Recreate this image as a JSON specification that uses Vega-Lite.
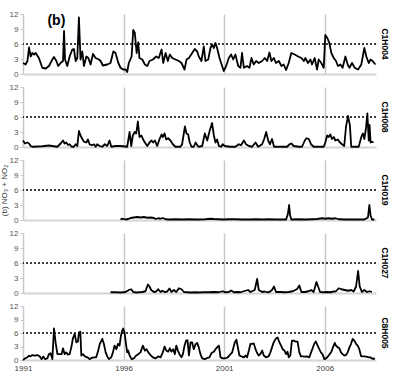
{
"$schema":"https://vega.github.io/schema/vega-lite/v6.json",
"background":"white",
"padding":{"left":0,"top":10,"right":2,"bottom":2},
"bounds":"flush",
"spacing":13,
"config":{
 "font":"Liberation Sans",
 "view":{"stroke":null},
 "axis":{"labelFont":"Liberation Sans","labelFontSize":8,"labelColor":"#555555","domainColor":"#c8c8c8","tickColor":"#c8c8c8","gridColor":"#c8c8c8","titleFont":"Liberation Sans","labelOverlap":false},
 "axisY":{"grid":false,"tickSize":3,"labelPadding":2,"domainWidth":1,"title":null,"titleFontSize":8,"titleFontWeight":"normal","titleColor":"#333333","titlePadding":1},
 "axisX":{"grid":true,"gridWidth":1.5,"ticks":false,"domainWidth":2,"domainColor":"#d4d4d4","labelFlush":false,"format":"d","labelPadding":4,"title":null,"labelColor":"#404040"},
 "title":{"orient":"right","fontSize":8.5,"fontWeight":"bold","anchor":"middle","offset":4,"color":"#000000","font":"Liberation Sans"}
},
"datasets":{
"C1H004":[{"t":1991.00,"v":2.2},{"t":1991.13,"v":1.9},{"t":1991.22,"v":2.6},{"t":1991.30,"v":5.3},{"t":1991.38,"v":3.5},{"t":1991.46,"v":4.2},{"t":1991.55,"v":3.9},{"t":1991.63,"v":4.2},{"t":1991.79,"v":3.2},{"t":1991.96,"v":1.25},{"t":1992.13,"v":1.1},{"t":1992.29,"v":1.6},{"t":1992.46,"v":2.9},{"t":1992.54,"v":3.4},{"t":1992.66,"v":2.6},{"t":1992.75,"v":1.6},{"t":1992.87,"v":2.2},{"t":1992.99,"v":2.6},{"t":1993.04,"v":8.6},{"t":1993.09,"v":2.9},{"t":1993.20,"v":1.6},{"t":1993.32,"v":3.5},{"t":1993.45,"v":4.9},{"t":1993.53,"v":5.0},{"t":1993.62,"v":2.6},{"t":1993.70,"v":3.2},{"t":1993.78,"v":11.3},{"t":1993.86,"v":2.9},{"t":1993.95,"v":4.5},{"t":1994.03,"v":1.6},{"t":1994.15,"v":3.5},{"t":1994.25,"v":3.2},{"t":1994.36,"v":1.9},{"t":1994.48,"v":4.0},{"t":1994.61,"v":3.2},{"t":1994.77,"v":2.9},{"t":1994.86,"v":2.6},{"t":1994.97,"v":1.7},{"t":1995.19,"v":1.9},{"t":1995.35,"v":2.2},{"t":1995.49,"v":4.5},{"t":1995.60,"v":4.2},{"t":1995.74,"v":2.2},{"t":1995.85,"v":1.25},{"t":1995.97,"v":0.9},{"t":1996.10,"v":0.9},{"t":1996.18,"v":0.4},{"t":1996.26,"v":2.2},{"t":1996.40,"v":3.5},{"t":1996.48,"v":8.8},{"t":1996.56,"v":8.2},{"t":1996.65,"v":4.2},{"t":1996.73,"v":6.3},{"t":1996.79,"v":3.2},{"t":1996.93,"v":2.9},{"t":1997.06,"v":1.9},{"t":1997.18,"v":1.6},{"t":1997.29,"v":2.6},{"t":1997.46,"v":2.9},{"t":1997.62,"v":3.5},{"t":1997.75,"v":3.2},{"t":1997.89,"v":4.9},{"t":1997.97,"v":2.2},{"t":1998.09,"v":4.2},{"t":1998.20,"v":2.6},{"t":1998.30,"v":3.9},{"t":1998.42,"v":3.2},{"t":1998.58,"v":2.9},{"t":1998.75,"v":2.6},{"t":1998.88,"v":2.2},{"t":1999.03,"v":0.9},{"t":1999.13,"v":2.9},{"t":1999.25,"v":3.2},{"t":1999.41,"v":4.2},{"t":1999.54,"v":5.0},{"t":1999.66,"v":4.5},{"t":1999.74,"v":3.5},{"t":1999.87,"v":2.6},{"t":1999.99,"v":5.5},{"t":2000.07,"v":2.6},{"t":2000.21,"v":2.9},{"t":2000.32,"v":5.2},{"t":2000.40,"v":5.9},{"t":2000.49,"v":5.2},{"t":2000.57,"v":6.2},{"t":2000.65,"v":5.2},{"t":2000.77,"v":3.2},{"t":2000.90,"v":1.6},{"t":2000.98,"v":0.6},{"t":2001.10,"v":1.6},{"t":2001.23,"v":3.2},{"t":2001.35,"v":3.9},{"t":2001.45,"v":2.9},{"t":2001.56,"v":3.9},{"t":2001.70,"v":1.6},{"t":2001.81,"v":1.25},{"t":2001.89,"v":4.2},{"t":2001.98,"v":1.25},{"t":2002.14,"v":1.6},{"t":2002.26,"v":1.25},{"t":2002.36,"v":3.2},{"t":2002.47,"v":1.9},{"t":2002.59,"v":2.6},{"t":2002.72,"v":2.2},{"t":2002.89,"v":2.6},{"t":2003.02,"v":3.2},{"t":2003.14,"v":2.6},{"t":2003.25,"v":4.3},{"t":2003.35,"v":2.6},{"t":2003.47,"v":3.2},{"t":2003.58,"v":2.2},{"t":2003.72,"v":2.6},{"t":2003.85,"v":1.6},{"t":2003.96,"v":1.9},{"t":2004.08,"v":0.8},{"t":2004.21,"v":2.2},{"t":2004.34,"v":4.2},{"t":2004.51,"v":3.9},{"t":2004.68,"v":3.5},{"t":2004.84,"v":3.2},{"t":2004.96,"v":2.6},{"t":2005.04,"v":3.2},{"t":2005.17,"v":2.2},{"t":2005.29,"v":2.9},{"t":2005.37,"v":1.9},{"t":2005.50,"v":3.2},{"t":2005.62,"v":0.9},{"t":2005.70,"v":2.9},{"t":2005.83,"v":2.2},{"t":2005.95,"v":1.25},{"t":2006.03,"v":7.8},{"t":2006.13,"v":7.2},{"t":2006.23,"v":6.2},{"t":2006.33,"v":4.2},{"t":2006.45,"v":3.2},{"t":2006.56,"v":2.6},{"t":2006.66,"v":1.6},{"t":2006.78,"v":1.9},{"t":2006.89,"v":1.25},{"t":2007.03,"v":3.5},{"t":2007.14,"v":1.9},{"t":2007.23,"v":1.25},{"t":2007.36,"v":2.2},{"t":2007.49,"v":1.25},{"t":2007.66,"v":0.9},{"t":2007.82,"v":1.9},{"t":2007.97,"v":5.2},{"t":2008.07,"v":3.5},{"t":2008.19,"v":2.2},{"t":2008.28,"v":2.9},{"t":2008.38,"v":2.6},{"t":2008.52,"v":1.9}],
"C1H008":[{"t":1991.00,"v":1.3},{"t":1991.10,"v":0.7},{"t":1991.22,"v":0.9},{"t":1991.30,"v":0.7},{"t":1991.38,"v":0.2},{"t":1991.46,"v":0.05},{"t":1991.96,"v":0.15},{"t":1992.29,"v":0.3},{"t":1992.46,"v":0.2},{"t":1992.71,"v":0.05},{"t":1992.87,"v":0.7},{"t":1992.99,"v":1.3},{"t":1993.07,"v":0.7},{"t":1993.15,"v":0.9},{"t":1993.24,"v":0.4},{"t":1993.32,"v":0.55},{"t":1993.42,"v":0.05},{"t":1993.53,"v":0.05},{"t":1993.62,"v":0.55},{"t":1993.70,"v":0.2},{"t":1993.78,"v":3.2},{"t":1993.86,"v":2.3},{"t":1993.95,"v":1.6},{"t":1994.03,"v":1.05},{"t":1994.15,"v":0.9},{"t":1994.23,"v":1.5},{"t":1994.31,"v":0.55},{"t":1994.41,"v":0.35},{"t":1994.53,"v":0.55},{"t":1994.61,"v":0.05},{"t":1994.69,"v":0.55},{"t":1994.81,"v":0.2},{"t":1994.94,"v":0.05},{"t":1995.07,"v":0.55},{"t":1995.19,"v":0.2},{"t":1995.30,"v":1.3},{"t":1995.39,"v":0.05},{"t":1995.60,"v":0.2},{"t":1995.85,"v":0.2},{"t":1996.18,"v":0.05},{"t":1996.30,"v":3.0},{"t":1996.38,"v":0.2},{"t":1996.46,"v":2.3},{"t":1996.55,"v":3.0},{"t":1996.63,"v":2.7},{"t":1996.71,"v":5.1},{"t":1996.79,"v":2.0},{"t":1996.89,"v":2.3},{"t":1996.96,"v":1.6},{"t":1997.06,"v":0.9},{"t":1997.18,"v":0.2},{"t":1997.29,"v":0.9},{"t":1997.39,"v":1.3},{"t":1997.47,"v":0.9},{"t":1997.56,"v":1.3},{"t":1997.67,"v":0.2},{"t":1997.79,"v":1.6},{"t":1997.89,"v":2.5},{"t":1997.95,"v":2.0},{"t":1998.04,"v":2.7},{"t":1998.12,"v":1.5},{"t":1998.22,"v":1.75},{"t":1998.33,"v":1.3},{"t":1998.45,"v":0.55},{"t":1998.58,"v":0.05},{"t":1998.83,"v":0.05},{"t":1998.91,"v":0.55},{"t":1999.05,"v":4.1},{"t":1999.13,"v":2.7},{"t":1999.21,"v":2.5},{"t":1999.29,"v":0.9},{"t":1999.38,"v":0.05},{"t":1999.49,"v":0.05},{"t":1999.58,"v":0.9},{"t":1999.69,"v":0.2},{"t":1999.74,"v":0.05},{"t":1999.91,"v":0.2},{"t":2000.04,"v":2.7},{"t":2000.16,"v":1.3},{"t":2000.29,"v":3.4},{"t":2000.40,"v":4.8},{"t":2000.49,"v":2.3},{"t":2000.57,"v":0.9},{"t":2000.65,"v":1.5},{"t":2000.74,"v":0.2},{"t":2000.85,"v":0.05},{"t":2000.93,"v":0.55},{"t":2001.03,"v":0.2},{"t":2001.31,"v":0.05},{"t":2001.56,"v":0.05},{"t":2001.73,"v":0.55},{"t":2001.84,"v":0.35},{"t":2001.98,"v":1.3},{"t":2002.09,"v":0.55},{"t":2002.23,"v":0.2},{"t":2002.39,"v":0.05},{"t":2002.56,"v":0.9},{"t":2002.69,"v":0.05},{"t":2002.89,"v":0.55},{"t":2002.99,"v":1.6},{"t":2003.09,"v":3.0},{"t":2003.19,"v":1.3},{"t":2003.28,"v":0.55},{"t":2003.38,"v":1.6},{"t":2003.48,"v":0.05},{"t":2004.13,"v":0.05},{"t":2004.25,"v":0.55},{"t":2004.34,"v":0.7},{"t":2004.46,"v":0.2},{"t":2004.71,"v":0.05},{"t":2004.87,"v":0.05},{"t":2005.01,"v":1.3},{"t":2005.09,"v":1.75},{"t":2005.21,"v":1.6},{"t":2005.32,"v":0.55},{"t":2005.45,"v":0.05},{"t":2005.95,"v":0.05},{"t":2006.03,"v":0.9},{"t":2006.12,"v":2.3},{"t":2006.20,"v":2.0},{"t":2006.28,"v":2.5},{"t":2006.36,"v":1.6},{"t":2006.45,"v":2.0},{"t":2006.53,"v":1.3},{"t":2006.65,"v":1.5},{"t":2006.73,"v":1.05},{"t":2006.86,"v":0.55},{"t":2006.97,"v":0.2},{"t":2007.06,"v":4.1},{"t":2007.16,"v":6.2},{"t":2007.25,"v":4.4},{"t":2007.32,"v":0.05},{"t":2007.69,"v":0.05},{"t":2007.82,"v":2.0},{"t":2007.90,"v":2.7},{"t":2007.97,"v":1.6},{"t":2008.05,"v":3.7},{"t":2008.12,"v":6.7},{"t":2008.19,"v":1.3},{"t":2008.23,"v":4.4},{"t":2008.28,"v":0.9},{"t":2008.35,"v":1.05},{"t":2008.43,"v":0.9}],
"C1H019":[{"t":1995.85,"v":0.15},{"t":1995.97,"v":0.25},{"t":1996.10,"v":0.1},{"t":1996.23,"v":0.2},{"t":1996.35,"v":0.4},{"t":1996.51,"v":0.5},{"t":1996.68,"v":0.6},{"t":1996.84,"v":0.5},{"t":1997.01,"v":0.6},{"t":1997.18,"v":0.45},{"t":1997.34,"v":0.5},{"t":1997.51,"v":0.4},{"t":1997.59,"v":0.2},{"t":1997.72,"v":0.35},{"t":1997.84,"v":0.25},{"t":1997.95,"v":0.4},{"t":1998.09,"v":0.15},{"t":1998.25,"v":0.1},{"t":1998.58,"v":0.15},{"t":1998.91,"v":0.1},{"t":1999.25,"v":0.15},{"t":1999.58,"v":0.1},{"t":1999.74,"v":0.1},{"t":2000.07,"v":0.15},{"t":2000.32,"v":0.25},{"t":2000.49,"v":0.2},{"t":2000.74,"v":0.15},{"t":2000.98,"v":0.1},{"t":2001.23,"v":0.15},{"t":2001.56,"v":0.15},{"t":2001.89,"v":0.1},{"t":2002.23,"v":0.1},{"t":2002.56,"v":0.15},{"t":2002.89,"v":0.1},{"t":2003.22,"v":0.15},{"t":2003.55,"v":0.1},{"t":2003.88,"v":0.1},{"t":2004.08,"v":0.1},{"t":2004.17,"v":1.2},{"t":2004.23,"v":3.0},{"t":2004.28,"v":0.9},{"t":2004.34,"v":0.1},{"t":2004.71,"v":0.15},{"t":2005.04,"v":0.1},{"t":2005.37,"v":0.15},{"t":2005.62,"v":0.2},{"t":2005.87,"v":0.35},{"t":2006.03,"v":0.25},{"t":2006.20,"v":0.35},{"t":2006.36,"v":0.25},{"t":2006.53,"v":0.35},{"t":2006.70,"v":0.15},{"t":2007.03,"v":0.1},{"t":2007.36,"v":0.1},{"t":2007.69,"v":0.1},{"t":2007.97,"v":0.1},{"t":2008.15,"v":0.5},{"t":2008.22,"v":3.0},{"t":2008.28,"v":0.9},{"t":2008.35,"v":0.1},{"t":2008.47,"v":0.1}],
"C1H027":[{"t":1995.35,"v":0.15},{"t":1995.60,"v":0.15},{"t":1995.85,"v":0.1},{"t":1996.10,"v":0.2},{"t":1996.26,"v":0.6},{"t":1996.38,"v":0.75},{"t":1996.48,"v":0.2},{"t":1996.63,"v":0.1},{"t":1996.76,"v":0.15},{"t":1996.93,"v":0.2},{"t":1997.09,"v":0.35},{"t":1997.21,"v":1.7},{"t":1997.29,"v":1.3},{"t":1997.37,"v":0.6},{"t":1997.51,"v":0.2},{"t":1997.62,"v":0.3},{"t":1997.72,"v":0.75},{"t":1997.84,"v":0.2},{"t":1997.92,"v":0.45},{"t":1998.04,"v":0.2},{"t":1998.17,"v":0.3},{"t":1998.28,"v":0.9},{"t":1998.38,"v":0.2},{"t":1998.50,"v":0.6},{"t":1998.62,"v":0.2},{"t":1998.75,"v":0.95},{"t":1998.88,"v":0.75},{"t":1999.00,"v":0.2},{"t":1999.16,"v":0.15},{"t":1999.33,"v":0.1},{"t":1999.58,"v":0.15},{"t":1999.74,"v":0.1},{"t":1999.99,"v":0.15},{"t":2000.24,"v":0.15},{"t":2000.49,"v":0.2},{"t":2000.74,"v":0.15},{"t":2000.93,"v":0.35},{"t":2001.03,"v":0.15},{"t":2001.23,"v":0.2},{"t":2001.35,"v":0.5},{"t":2001.48,"v":0.15},{"t":2001.65,"v":0.2},{"t":2001.81,"v":0.15},{"t":2001.98,"v":0.35},{"t":2002.19,"v":0.6},{"t":2002.31,"v":0.2},{"t":2002.52,"v":0.6},{"t":2002.64,"v":2.8},{"t":2002.72,"v":0.6},{"t":2002.89,"v":0.2},{"t":2003.00,"v":0.3},{"t":2003.14,"v":0.15},{"t":2003.25,"v":0.2},{"t":2003.38,"v":0.6},{"t":2003.48,"v":1.3},{"t":2003.58,"v":0.2},{"t":2003.80,"v":0.2},{"t":2004.01,"v":0.15},{"t":2004.21,"v":0.2},{"t":2004.41,"v":0.35},{"t":2004.54,"v":0.6},{"t":2004.63,"v":0.8},{"t":2004.74,"v":1.5},{"t":2004.84,"v":0.2},{"t":2005.01,"v":0.2},{"t":2005.21,"v":0.35},{"t":2005.32,"v":0.6},{"t":2005.45,"v":0.2},{"t":2005.59,"v":2.2},{"t":2005.67,"v":1.3},{"t":2005.77,"v":0.2},{"t":2005.95,"v":0.15},{"t":2006.12,"v":0.2},{"t":2006.28,"v":0.15},{"t":2006.45,"v":0.3},{"t":2006.56,"v":0.35},{"t":2006.70,"v":0.95},{"t":2006.83,"v":0.75},{"t":2006.99,"v":0.6},{"t":2007.16,"v":0.45},{"t":2007.32,"v":0.6},{"t":2007.44,"v":0.3},{"t":2007.56,"v":1.3},{"t":2007.66,"v":4.4},{"t":2007.74,"v":1.3},{"t":2007.85,"v":0.2},{"t":2007.97,"v":0.6},{"t":2008.10,"v":0.2},{"t":2008.22,"v":0.35},{"t":2008.35,"v":0.2}],
"C8H005":[{"t":1991.00,"v":0},{"t":1991.10,"v":0.35},{"t":1991.22,"v":0.6},{"t":1991.30,"v":0.95},{"t":1991.38,"v":0.8},{"t":1991.46,"v":1.1},{"t":1991.58,"v":0.95},{"t":1991.71,"v":1.1},{"t":1991.83,"v":0.8},{"t":1991.93,"v":0.2},{"t":1992.01,"v":0.8},{"t":1992.09,"v":0.2},{"t":1992.21,"v":0.35},{"t":1992.29,"v":1.3},{"t":1992.37,"v":1.5},{"t":1992.46,"v":0.2},{"t":1992.54,"v":7.0},{"t":1992.62,"v":3.9},{"t":1992.71,"v":1.3},{"t":1992.82,"v":1.3},{"t":1992.92,"v":1.3},{"t":1992.99,"v":2.6},{"t":1993.07,"v":1.3},{"t":1993.15,"v":1.7},{"t":1993.24,"v":1.2},{"t":1993.32,"v":1.3},{"t":1993.42,"v":3.2},{"t":1993.48,"v":4.8},{"t":1993.57,"v":5.8},{"t":1993.65,"v":3.9},{"t":1993.73,"v":4.1},{"t":1993.78,"v":6.1},{"t":1993.85,"v":6.3},{"t":1993.90,"v":1.0},{"t":1993.98,"v":1.3},{"t":1994.08,"v":0.8},{"t":1994.20,"v":0.6},{"t":1994.31,"v":0.2},{"t":1994.41,"v":0.45},{"t":1994.53,"v":0.6},{"t":1994.64,"v":0.6},{"t":1994.74,"v":2.1},{"t":1994.82,"v":3.6},{"t":1994.94,"v":4.7},{"t":1995.02,"v":3.6},{"t":1995.11,"v":1.7},{"t":1995.19,"v":0.8},{"t":1995.27,"v":0.2},{"t":1995.39,"v":0.6},{"t":1995.47,"v":1.7},{"t":1995.55,"v":3.2},{"t":1995.64,"v":2.4},{"t":1995.72,"v":3.6},{"t":1995.80,"v":3.2},{"t":1995.87,"v":5.4},{"t":1995.93,"v":6.5},{"t":1995.98,"v":7.0},{"t":1996.05,"v":6.1},{"t":1996.12,"v":3.6},{"t":1996.18,"v":1.7},{"t":1996.23,"v":2.1},{"t":1996.30,"v":1.0},{"t":1996.40,"v":0.2},{"t":1996.51,"v":0.35},{"t":1996.63,"v":1.0},{"t":1996.73,"v":1.3},{"t":1996.84,"v":1.7},{"t":1996.96,"v":3.2},{"t":1997.06,"v":2.1},{"t":1997.14,"v":2.4},{"t":1997.23,"v":1.7},{"t":1997.34,"v":1.1},{"t":1997.46,"v":0.6},{"t":1997.59,"v":0.35},{"t":1997.72,"v":0.8},{"t":1997.84,"v":0.6},{"t":1997.95,"v":1.7},{"t":1998.04,"v":3.0},{"t":1998.12,"v":2.1},{"t":1998.22,"v":1.85},{"t":1998.30,"v":2.6},{"t":1998.38,"v":1.85},{"t":1998.47,"v":2.4},{"t":1998.55,"v":1.3},{"t":1998.62,"v":3.2},{"t":1998.70,"v":2.1},{"t":1998.78,"v":1.3},{"t":1998.88,"v":0.6},{"t":1998.95,"v":1.3},{"t":1999.03,"v":3.2},{"t":1999.11,"v":4.3},{"t":1999.18,"v":4.4},{"t":1999.25,"v":1.0},{"t":1999.33,"v":3.9},{"t":1999.41,"v":3.9},{"t":1999.49,"v":2.4},{"t":1999.58,"v":3.5},{"t":1999.66,"v":3.8},{"t":1999.74,"v":2.8},{"t":1999.82,"v":1.3},{"t":1999.91,"v":0.35},{"t":2000.04,"v":0.2},{"t":2000.16,"v":0.45},{"t":2000.27,"v":0.6},{"t":2000.37,"v":1.55},{"t":2000.49,"v":1.85},{"t":2000.57,"v":2.4},{"t":2000.65,"v":2.8},{"t":2000.74,"v":3.2},{"t":2000.82,"v":0.6},{"t":2000.93,"v":0.35},{"t":2001.03,"v":0.35},{"t":2001.15,"v":0.5},{"t":2001.26,"v":1.0},{"t":2001.40,"v":1.7},{"t":2001.53,"v":3.9},{"t":2001.61,"v":4.5},{"t":2001.70,"v":2.4},{"t":2001.76,"v":1.0},{"t":2001.86,"v":0.8},{"t":2001.98,"v":0.6},{"t":2002.06,"v":1.0},{"t":2002.14,"v":0.6},{"t":2002.23,"v":2.1},{"t":2002.31,"v":3.6},{"t":2002.39,"v":3.6},{"t":2002.47,"v":3.7},{"t":2002.56,"v":2.4},{"t":2002.64,"v":1.55},{"t":2002.72,"v":1.0},{"t":2002.80,"v":1.3},{"t":2002.89,"v":2.1},{"t":2002.97,"v":1.0},{"t":2003.08,"v":0.6},{"t":2003.21,"v":0.8},{"t":2003.30,"v":1.7},{"t":2003.38,"v":2.8},{"t":2003.46,"v":3.9},{"t":2003.58,"v":4.8},{"t":2003.66,"v":5.0},{"t":2003.75,"v":3.9},{"t":2003.83,"v":3.2},{"t":2003.91,"v":2.4},{"t":2004.00,"v":2.1},{"t":2004.08,"v":1.3},{"t":2004.15,"v":1.85},{"t":2004.21,"v":0.6},{"t":2004.29,"v":1.0},{"t":2004.37,"v":4.3},{"t":2004.46,"v":4.3},{"t":2004.54,"v":4.1},{"t":2004.65,"v":4.1},{"t":2004.74,"v":1.7},{"t":2004.82,"v":0.8},{"t":2004.90,"v":0.8},{"t":2005.01,"v":0.75},{"t":2005.12,"v":0.8},{"t":2005.24,"v":0.6},{"t":2005.32,"v":1.7},{"t":2005.40,"v":2.6},{"t":2005.48,"v":3.6},{"t":2005.56,"v":4.1},{"t":2005.65,"v":3.2},{"t":2005.73,"v":2.4},{"t":2005.81,"v":1.7},{"t":2005.89,"v":1.3},{"t":2005.98,"v":0.2},{"t":2006.07,"v":0.35},{"t":2006.16,"v":0.8},{"t":2006.25,"v":1.3},{"t":2006.33,"v":1.85},{"t":2006.41,"v":2.8},{"t":2006.50,"v":3.8},{"t":2006.56,"v":3.2},{"t":2006.65,"v":2.8},{"t":2006.73,"v":2.6},{"t":2006.81,"v":1.7},{"t":2006.89,"v":1.3},{"t":2006.98,"v":1.0},{"t":2007.06,"v":1.1},{"t":2007.14,"v":1.7},{"t":2007.23,"v":2.8},{"t":2007.31,"v":3.6},{"t":2007.39,"v":4.7},{"t":2007.47,"v":4.3},{"t":2007.56,"v":3.6},{"t":2007.64,"v":3.2},{"t":2007.72,"v":2.4},{"t":2007.81,"v":0.8},{"t":2007.89,"v":0.8},{"t":2007.97,"v":0.8},{"t":2008.07,"v":0.75},{"t":2008.19,"v":0.6},{"t":2008.27,"v":0.6},{"t":2008.35,"v":0.35},{"t":2008.43,"v":0.2},{"t":2008.48,"v":0.5}]
},
"vconcat":[
{"width":353,"height":60,"title":{"text":"C1H004"},"data":{"name":"C1H004"},
 "layer":[
  {"mark":{"type":"line","color":"#000000","strokeWidth":1.8,"strokeJoin":"round"},
   "encoding":{"x":{"field":"t","type":"quantitative","scale":{"domain":[1991,2008.55],"nice":false,"zero":false},"axis":{"labels":false,"values":[1991,1996,2001,2006]}},
               "y":{"field":"v","type":"quantitative","scale":{"domain":[0,12],"nice":false},"axis":{"values":[0,3,6,9,12],"labelOverlap":false,"labelBound":false}}}},
  {"data":{"values":[{}]},"mark":{"type":"rule","color":"#000000","strokeDash":[2,2],"strokeWidth":1.3},"encoding":{"y":{"datum":6,"type":"quantitative","axis":{"values":[0,3,6,9,12],"labelOverlap":false,"labelBound":false}}}},
  {"data":{"values":[{}]},"mark":{"type":"text","fontSize":14,"fontWeight":"bold","font":"Liberation Sans","color":"#000000"},"encoding":{"x":{"datum":1992.66,"type":"quantitative","axis":{"labels":false,"values":[1991,1996,2001,2006]}},"y":{"datum":10.65,"type":"quantitative","axis":{"values":[0,3,6,9,12],"labelOverlap":false,"labelBound":false}},"text":{"value":"(b)"}}}
 ]},
{"width":353,"height":60,"title":{"text":"C1H008"},"data":{"name":"C1H008"},
 "layer":[
  {"mark":{"type":"line","color":"#000000","strokeWidth":1.8,"strokeJoin":"round"},
   "encoding":{"x":{"field":"t","type":"quantitative","scale":{"domain":[1991,2008.55],"nice":false,"zero":false},"axis":{"labels":false,"values":[1991,1996,2001,2006]}},
               "y":{"field":"v","type":"quantitative","scale":{"domain":[0,12],"nice":false},"axis":{"values":[0,3,6,9,12],"labelOverlap":false,"labelBound":false}}}},
  {"data":{"values":[{}]},"mark":{"type":"rule","color":"#000000","strokeDash":[2,2],"strokeWidth":1.3},"encoding":{"y":{"datum":6,"type":"quantitative","axis":{"values":[0,3,6,9,12],"labelOverlap":false,"labelBound":false}}}}
 ]},
{"width":353,"height":60,"title":{"text":"C1H019"},"data":{"name":"C1H019"},
 "layer":[
  {"mark":{"type":"line","color":"#000000","strokeWidth":1.8,"strokeJoin":"round"},
   "encoding":{"x":{"field":"t","type":"quantitative","scale":{"domain":[1991,2008.55],"nice":false,"zero":false},"axis":{"labels":false,"values":[1991,1996,2001,2006]}},
               "y":{"field":"v","type":"quantitative","scale":{"domain":[0,12],"nice":false},"axis":{"values":[0,3,6,9,12],"labelOverlap":false,"labelBound":false,"title":"(b) NO₃ + NO₂"}}}},
  {"data":{"values":[{}]},"mark":{"type":"rule","color":"#000000","strokeDash":[2,2],"strokeWidth":1.3},"encoding":{"y":{"datum":6,"type":"quantitative","axis":{"values":[0,3,6,9,12],"labelOverlap":false,"labelBound":false,"title":"(b) NO₃ + NO₂"}}}}
 ]},
{"width":353,"height":60,"title":{"text":"C1H027"},"data":{"name":"C1H027"},
 "layer":[
  {"mark":{"type":"line","color":"#000000","strokeWidth":1.8,"strokeJoin":"round"},
   "encoding":{"x":{"field":"t","type":"quantitative","scale":{"domain":[1991,2008.55],"nice":false,"zero":false},"axis":{"labels":false,"values":[1991,1996,2001,2006]}},
               "y":{"field":"v","type":"quantitative","scale":{"domain":[0,12],"nice":false},"axis":{"values":[0,3,6,9,12],"labelOverlap":false,"labelBound":false}}}},
  {"data":{"values":[{}]},"mark":{"type":"rule","color":"#000000","strokeDash":[2,2],"strokeWidth":1.3},"encoding":{"y":{"datum":6,"type":"quantitative","axis":{"values":[0,3,6,9,12],"labelOverlap":false,"labelBound":false}}}}
 ]},
{"width":353,"height":54,"title":{"text":"C8H005"},"data":{"name":"C8H005"},
 "layer":[
  {"mark":{"type":"line","color":"#000000","strokeWidth":1.8,"strokeJoin":"round"},
   "encoding":{"x":{"field":"t","type":"quantitative","scale":{"domain":[1991,2008.55],"nice":false,"zero":false},"axis":{"values":[1991,1996,2001,2006]}},
               "y":{"field":"v","type":"quantitative","scale":{"domain":[0,12],"nice":false},"axis":{"values":[0,3,6,9,12],"labelOverlap":false,"labelBound":false}}}},
  {"data":{"values":[{}]},"mark":{"type":"rule","color":"#000000","strokeDash":[2,2],"strokeWidth":1.3},"encoding":{"y":{"datum":6,"type":"quantitative","axis":{"values":[0,3,6,9,12],"labelOverlap":false,"labelBound":false}}}}
 ]}
]
}
